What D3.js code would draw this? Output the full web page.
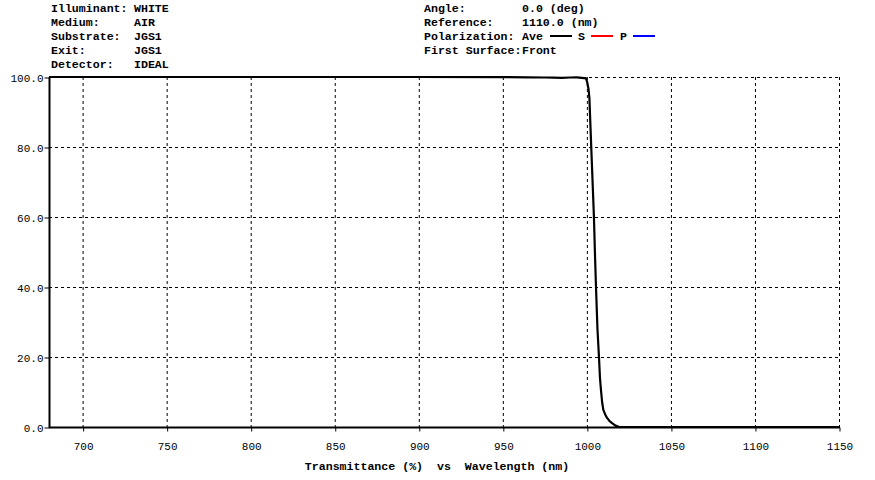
<!DOCTYPE html>
<html><head><meta charset="utf-8">
<script src="https://cdn.jsdelivr.net/npm/d3@7"></script>
<style>
body{margin:0;background:#fff;}
text{font-family:"Liberation Mono","Courier New",monospace;white-space:pre;}
</style></head>
<body><svg id="c" width="875" height="480"></svg>
<script>
// data
const wavelengths = [680, 800, 900, 950, 965, 975, 980, 985, 990, 994, 997, 999.5, 1000.2, 1001, 1001.5, 1002.6, 1003.4, 1004.2, 1004.9, 1005.5, 1006.3, 1007.2, 1007.8, 1008.4, 1009.1, 1009.8, 1011, 1012, 1013.5, 1015, 1017, 1019, 1050, 1100, 1150];
const transmittance = [100, 100, 100, 99.95, 99.9, 99.85, 99.8, 99.75, 99.85, 99.9, 99.75, 99.6, 98.5, 96.5, 94, 80, 70, 60, 48, 39, 28, 20, 14, 10.5, 7, 4.9, 3.5, 2.6, 1.7, 1.1, 0.4, 0.05, 0, 0, 0];
const xTicks = [700, 750, 800, 850, 900, 950, 1000, 1050, 1100, 1150];
const yTicks = [0, 20, 40, 60, 80, 100];
const headerLeft = [["Illuminant:", "WHITE"], ["Medium:", "AIR"], ["Substrate:", "JGS1"], ["Exit:", "JGS1"], ["Detector:", "IDEAL"]];
const headerRight = [["Angle:", "0.0 (deg)"], ["Reference:", "1110.0 (nm)"], ["Polarization:", "Ave"], ["First Surface:", "Front"]];
const legend = [{label: "S", color: "#ff0000"}, {label: "P", color: "#0000ff"}];
const xTitle = "Transmittance (%)  vs  Wavelength (nm)";

const svg = d3.select("#c");
const L = 49, R = 839, T = 77, B = 427;
const x = d3.scaleLinear().domain([680, 1150]).range([L, R]);
const y = d3.scaleLinear().domain([0, 100]).range([B, T]);

// grid
const g = svg.append("g");
g.selectAll("line.gx").data(xTicks).join("line")
  .attr("x1", d => x(d)+0.5).attr("x2", d => x(d)+0.5).attr("y1", T).attr("y2", B)
  .attr("stroke", "#000").attr("stroke-width", 1).attr("stroke-dasharray", "3,3");
g.selectAll("line.gy").data(yTicks.filter(d => d > 0)).join("line")
  .attr("x1", L).attr("x2", R).attr("y1", d => y(d)+0.5).attr("y2", d => y(d)+0.5)
  .attr("stroke", "#000").attr("stroke-width", 1).attr("stroke-dasharray", "3,3");

// axes
const xAxis = d3.axisBottom(x).tickValues(xTicks).tickSize(4).tickFormat(d3.format("d"));
const ax = svg.append("g").attr("transform", `translate(0.5,${B+0.5})`).call(xAxis);
ax.select(".domain").remove();
ax.selectAll("text").attr("font-size", "11px").attr("dy", "1.45em").attr("fill", "#000")
  .style("font-family", "'Liberation Mono',monospace");
const yAxis = d3.axisLeft(y).tickValues(yTicks).tickSize(5).tickFormat(d3.format(".1f"));
const ay = svg.append("g").attr("transform", `translate(${L+0.5},0.5)`).call(yAxis);
ay.select(".domain").remove();
ay.selectAll("text").attr("font-size", "11px").attr("x", -6).attr("fill", "#000")
  .style("font-family", "'Liberation Mono',monospace");
svg.append("line").attr("x1", L+0.5).attr("x2", L+0.5).attr("y1", T).attr("y2", B+1).attr("stroke", "#000").attr("stroke-width", 2);
svg.append("line").attr("x1", L).attr("x2", R+1).attr("y1", B+0.5).attr("y2", B+0.5).attr("stroke", "#000").attr("stroke-width", 2);

// curve
const data = wavelengths.map((w, i) => [w, transmittance[i]]);
svg.append("path").datum(data)
  .attr("d", d3.line().x(d => x(d[0])).y(d => y(d[1])))
  .attr("fill", "none").attr("stroke", "#000").attr("stroke-width", 2.2).attr("stroke-linejoin", "round");

// header
const fs = "11.6px";
headerLeft.forEach((r, i) => {
  svg.append("text").attr("x", 51).attr("y", 12 + i*14).attr("font-size", fs).attr("font-weight", "bold").text(r[0]);
  svg.append("text").attr("x", 134).attr("y", 12 + i*14).attr("font-size", fs).attr("font-weight", "bold").text(r[1]);
});
headerRight.forEach((r, i) => {
  svg.append("text").attr("x", 424).attr("y", 12 + i*14).attr("font-size", fs).attr("font-weight", "bold").text(r[0]);
  svg.append("text").attr("x", 522).attr("y", 12 + i*14).attr("font-size", fs).attr("font-weight", "bold").text(r[1]);
});
const ly = 36;
svg.append("line").attr("x1", 550).attr("x2", 572).attr("y1", ly).attr("y2", ly).attr("stroke", "#000").attr("stroke-width", 2);
legend.forEach((l, i) => {
  const bx = 578 + i*42;
  svg.append("text").attr("x", bx).attr("y", 40).attr("font-size", fs).attr("font-weight", "bold").text(l.label);
  svg.append("line").attr("x1", bx+13).attr("x2", bx+35).attr("y1", ly).attr("y2", ly).attr("stroke", l.color).attr("stroke-width", 2);
});

svg.append("text").attr("x", 437).attr("y", 470).attr("text-anchor", "middle").attr("font-size", fs).attr("font-weight", "bold").text(xTitle);
</script></body></html>
